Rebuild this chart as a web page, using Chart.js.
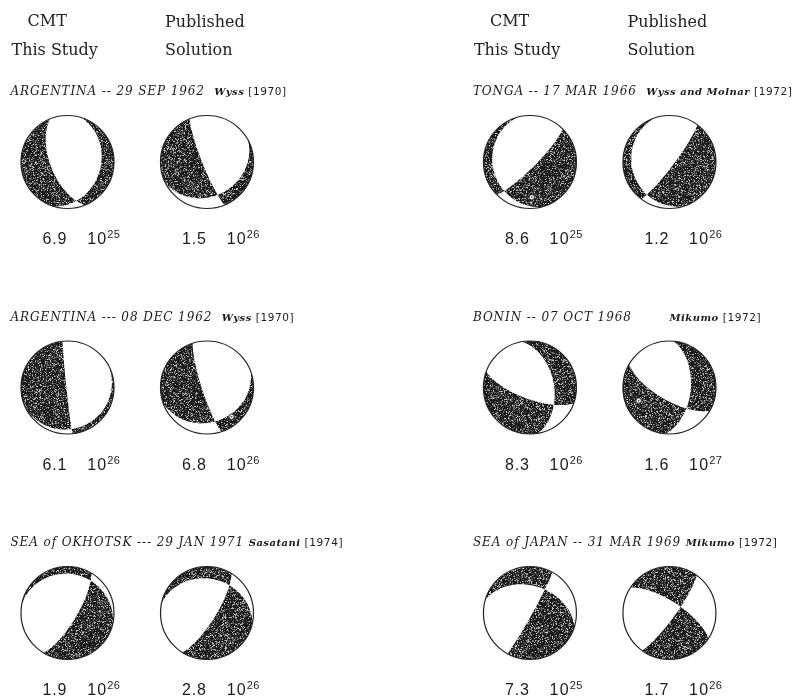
<!DOCTYPE html>
<html>
<head>
<meta charset="utf-8">
<script src="https://cdn.jsdelivr.net/npm/chart.js@4.4.1/dist/chart.umd.min.js"></script>
<style>
  html, body { margin: 0; padding: 0; background: #ffffff; }
  canvas { display: block; }
</style>
</head>
<body>
<canvas id="mechanisms" width="802" height="698"></canvas>
<script>
// ---- Events (one row per earthquake, arranged in two panels) ----
const eventTitles = [
  'ARGENTINA -- 29 SEP 1962  ',
  'TONGA -- 17 MAR 1966  ',
  'ARGENTINA --- 08 DEC 1962  ',
  'BONIN -- 07 OCT 1968        ',
  'SEA of OKHOTSK --- 29 JAN 1971 ',
  'SEA of JAPAN -- 31 MAR 1969 '
];
const eventAuthors = ['Wyss', 'Wyss and Molnar', 'Wyss', 'Mikumo', 'Sasatani', 'Mikumo'];
const eventYears   = ['[1970]', '[1972]', '[1970]', '[1972]', '[1974]', '[1972]'];
const eventRow     = [0, 0, 1, 1, 2, 2];
const eventPanel   = [0, 1, 0, 1, 0, 1];

// ---- Solutions: two per event, CMT (this study) first, then the published one ----
// nodal plane A and nodal plane B, strike / dip in degrees
const strikeA = [158, 158,  45,  37, 174, 162, 350,   5,  31,  32,  29,  36];
const dipA    = [ 60,  82,  80,  82,  88,  81,  47,  52,  74,  75,  86,  80];
const strikeB = [ 17,  62, 165, 162,  62,  70, 110, 120, 282, 282, 287, 303];
const dipB    = [ 29,  27,  21,  20,  12,  26,  70,  68,  17,  27,  41,  70];
// scalar seismic moment, dyne-cm
const moments = [6.9e25, 1.5e26, 8.6e25, 1.2e26, 6.1e26, 6.8e26,
                 8.3e26, 1.6e27, 1.9e26, 2.8e26, 7.3e25, 1.7e26];
// tension axis where it is plotted (trend, plunge in degrees)
const tAxisTrend  = [null, null, 177, null, null, 140, null, 247, null, null, null, null];
const tAxisPlunge = [null, null,  25, null, null,  19, null,  29, null, null, null, null];

// column headings
const headCmt = ['CMT', 'This Study'];
const headPub = ['Published', 'Solution'];

// ---- layout constants ----
const PANEL_OFFSET = 3.315;   // horizontal distance between the two panels, column units
const BALL_R = 46.5;          // sphere radius in px

const points = moments.map((m, j) => {
  const e = Math.floor(j / 2), k = j % 2;
  return { x: eventPanel[e] * PANEL_OFFSET + k, y: eventRow[e] };
});

// ---- focal sphere helpers ----
const D2R = Math.PI / 180;
function planeNormal(strike, dip) {
  const s = strike * D2R, d = dip * D2R;
  return [-Math.sin(d) * Math.sin(s), Math.sin(d) * Math.cos(s), -Math.cos(d)];
}
// lower hemisphere, equal-area: (u east, v north) in unit disk -> ray (N, E, Down)
function rayAt(u, v) {
  const r2 = u * u + v * v;
  const h = Math.sqrt(Math.max(0, 2 - r2));
  return [v * h, u * h, 1 - r2];
}
// grey level of the dot screen used for compressional quadrants
function stippleGrey(x, y) {
  let h = Math.imul(x, 374761393) + Math.imul(y, 668265263) | 0;
  h = Math.imul(h ^ (h >>> 13), 1274126177);
  h = h ^ (h >>> 16);
  const q = (h >>> 0) % 100;
  if (q < 12) return 190;
  if (q < 34) return 105;
  return 28;
}

function drawSphere(ctx, cx, cy, R, j) {
  const n1 = planeNormal(strikeA[j], dipA[j]);
  const n2 = planeNormal(strikeB[j], dipB[j]);
  const size = Math.ceil(R) * 2 + 6;
  const x0 = Math.round(cx) - size / 2, y0 = Math.round(cy) - size / 2;
  const off = document.createElement('canvas');
  off.width = size; off.height = size;
  const octx = off.getContext('2d');
  const img = octx.createImageData(size, size);
  const SS = 3, N = SS * SS;
  for (let py = 0; py < size; py++) {
    for (let px = 0; px < size; px++) {
      let cover = 0, shade = 0;
      for (let a = 0; a < SS; a++) {
        for (let b = 0; b < SS; b++) {
          const sx = x0 + px + (a + 0.5) / SS;
          const sy = y0 + py + (b + 0.5) / SS;
          const u = (sx - cx) / R, v = -(sy - cy) / R;
          if (u * u + v * v > 1) continue;
          cover++;
          const r = rayAt(u, v);
          const p1 = n1[0] * r[0] + n1[1] * r[1] + n1[2] * r[2];
          const p2 = n2[0] * r[0] + n2[1] * r[1] + n2[2] * r[2];
          if (p1 * p2 < 0) shade++;
        }
      }
      if (!cover) continue;
      const g = stippleGrey(x0 + px, y0 + py);
      const val = (shade * g + (cover - shade) * 255) / cover;
      const idx = (py * size + px) * 4;
      img.data[idx] = val; img.data[idx + 1] = val; img.data[idx + 2] = val;
      img.data[idx + 3] = Math.round(255 * cover / N);
    }
  }
  octx.putImageData(img, 0, 0);
  ctx.drawImage(off, x0, y0);
  ctx.beginPath();
  ctx.arc(cx, cy, R, 0, Math.PI * 2);
  ctx.lineWidth = 1.2;
  ctx.strokeStyle = '#222222';
  ctx.stroke();

  if (tAxisTrend[j] !== null) {
    const inc = (90 - tAxisPlunge[j]) * D2R;
    const rr = Math.SQRT2 * Math.sin(inc / 2);
    const mx = cx + R * rr * Math.sin(tAxisTrend[j] * D2R);
    const my = cy - R * rr * Math.cos(tAxisTrend[j] * D2R);
    ctx.beginPath();
    ctx.arc(mx, my, 2.6, 0, Math.PI * 2);
    ctx.fillStyle = '#ffffff';
    ctx.fill();
    ctx.lineWidth = 0.9;
    ctx.strokeStyle = '#333333';
    ctx.stroke();
    ctx.beginPath();
    ctx.arc(mx, my, 0.9, 0, Math.PI * 2);
    ctx.fillStyle = '#555555';
    ctx.fill();
  }
}

function putText(ctx, str, x, y, font, spacing) {
  ctx.font = font;
  if ('letterSpacing' in ctx) ctx.letterSpacing = (spacing || 0) + 'px';
  ctx.fillText(str, x, y);
  const w = ctx.measureText(str).width;
  if ('letterSpacing' in ctx) ctx.letterSpacing = '0px';
  return w;
}

const spherePlugin = {
  id: 'focalSpheres',
  beforeDraw(chart) {
    const ctx = chart.ctx;
    ctx.save();
    ctx.fillStyle = '#ffffff';
    ctx.fillRect(0, 0, chart.width, chart.height);
    ctx.restore();
  },
  afterDatasetsDraw(chart) {
    const ctx = chart.ctx;
    const meta = chart.getDatasetMeta(0);
    ctx.save();
    meta.data.forEach((el, j) => drawSphere(ctx, el.x, el.y, BALL_R, j));

    ctx.fillStyle = '#1c1c1c';
    ctx.textBaseline = 'alphabetic';

    // moment labels under each sphere
    meta.data.forEach((el, j) => {
      const exp = Math.floor(Math.log10(moments[j]) + 1e-9);
      const mant = (moments[j] / Math.pow(10, exp)).toFixed(1);
      let x = el.x - 25, y = el.y + 82;
      const w = putText(ctx, mant, x, y, '16px "Liberation Sans", Arial, sans-serif', 0.8);
      x += w + 20;
      const w2 = putText(ctx, '10', x, y, '16px "Liberation Sans", Arial, sans-serif', 1.2);
      putText(ctx, String(exp), x + w2, y - 6, '11px "Liberation Sans", Arial, sans-serif', 0.3);
    });

    // event titles
    eventTitles.forEach((t, e) => {
      const el = meta.data[e * 2];
      let x = el.x - 57, y = el.y - 67;
      ctx.fillStyle = '#1a1a1a';
      x += putText(ctx, t, x, y, 'italic 12px "DejaVu Serif", serif', 0.9);
      x += putText(ctx, eventAuthors[e] + ' ', x, y, 'italic bold 10px "DejaVu Serif", serif', 0.5);
      putText(ctx, eventYears[e], x, y, '10.5px "DejaVu Sans", sans-serif', 0.6);
    });

    // column headings for each panel
    [0, 1].forEach(p => {
      const e = eventPanel.indexOf(p);
      const cmt = meta.data[e * 2], pub = meta.data[e * 2 + 1];
      const top = cmt.y;
      ctx.fillStyle = '#222222';
      putText(ctx, headCmt[0], cmt.x - 40, top - 136, '16px "DejaVu Serif", serif', 0);
      putText(ctx, headCmt[1], cmt.x - 56, top - 107, '16px "DejaVu Serif", serif', 0);
      putText(ctx, headPub[0], pub.x - 42, top - 135, '16px "DejaVu Serif", serif', 0);
      putText(ctx, headPub[1], pub.x - 42, top - 107, '16px "DejaVu Serif", serif', 0);
    });
    ctx.restore();
  }
};

const yUnit = 225.5, xUnit = 139.5;
new Chart(document.getElementById('mechanisms'), {
  type: 'scatter',
  data: {
    datasets: [{
      label: 'Focal mechanisms',
      data: points,
      pointRadius: 0,
      pointHoverRadius: 0
    }]
  },
  options: {
    responsive: false,
    animation: false,
    events: [],
    layout: { padding: 0 },
    plugins: { legend: { display: false }, tooltip: { enabled: false }, title: { display: false } },
    scales: {
      x: { type: 'linear', display: false, min: -67.5 / xUnit, max: (802 - 67.5) / xUnit },
      y: { type: 'linear', display: false, reverse: true, min: -162 / yUnit, max: (698 - 162) / yUnit }
    }
  },
  plugins: [spherePlugin]
});
</script>
</body>
</html>
